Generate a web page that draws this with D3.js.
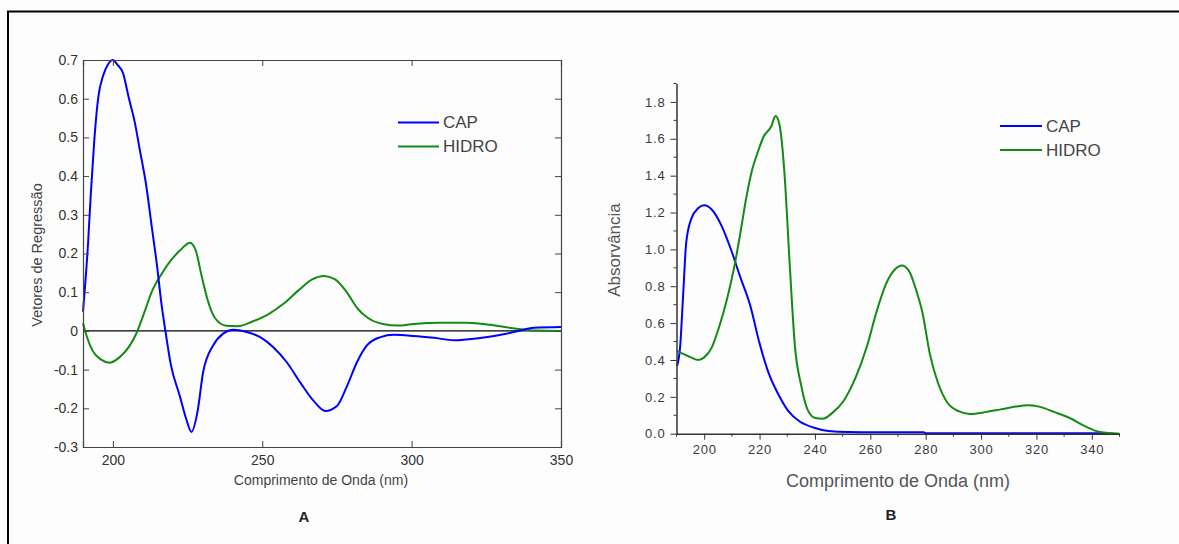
<!DOCTYPE html>
<html>
<head>
<meta charset="utf-8">
<script src="https://cdn.jsdelivr.net/npm/d3@7"></script>
<style>
body { margin: 0; background: #fdfdfd; }
text { font-family: "Liberation Sans", Arial, sans-serif; }
</style>
</head>
<body>
<div id="fig"></div>
<script>
// panel A - regression vectors
var capA_wl = [190, 191.7, 192.6, 193.8, 195.1, 196.8, 198.3, 200, 201.5, 203.4, 205.3, 207.3, 209.2, 211.1, 213, 214.7, 216.2, 217.7, 219.4, 222.4, 224.6, 226.3, 228.3, 230.2, 233.6, 236.9, 240.3, 244.8, 249.3, 253.7, 258.2, 262.7, 267.2, 271.1, 275, 278.4, 281.7, 285.1, 289.6, 294, 300.7, 307.5, 314.2, 320.9, 327.6, 334.3, 341, 350];
var capA_val = [0.05, 0.227, 0.352, 0.495, 0.603, 0.661, 0.688, 0.70, 0.688, 0.666, 0.603, 0.54, 0.46, 0.379, 0.27, 0.173, 0.074, -0.006, -0.087, -0.168, -0.229, -0.261, -0.21, -0.107, -0.037, -0.007, 0.003, -0.003, -0.016, -0.042, -0.081, -0.133, -0.181, -0.207, -0.194, -0.142, -0.081, -0.037, -0.016, -0.010, -0.013, -0.018, -0.024, -0.020, -0.013, -0.003, 0.008, 0.010];
var hidroA_wl = [190, 191.3, 193.2, 195.8, 199, 202.1, 205.3, 207.9, 210.5, 213, 216.2, 219.4, 222.6, 225.8, 227.7, 229.6, 231.6, 234.1, 238, 241.8, 246.9, 252, 257.1, 262.3, 266.7, 270.6, 274.4, 278.2, 282.1, 285.3, 290.4, 295.5, 300.6, 309.6, 318.5, 326.2, 333.9, 341.5, 350];
var hidroA_val = [0.02, -0.015, -0.051, -0.073, -0.082, -0.069, -0.042, -0.006, 0.047, 0.101, 0.146, 0.182, 0.209, 0.228, 0.209, 0.146, 0.083, 0.034, 0.013, 0.012, 0.025, 0.043, 0.07, 0.106, 0.133, 0.142, 0.133, 0.101, 0.056, 0.034, 0.018, 0.014, 0.018, 0.021, 0.021, 0.016, 0.007, 0.001, 0.0];
var xTicksA = [200, 250, 300, 350];
var yTicksA = [-0.3, -0.2, -0.1, 0, 0.1, 0.2, 0.3, 0.4, 0.5, 0.6, 0.7];

// panel B - absorbance spectra
var capB_wl = [190.2, 191.3, 192.4, 193.5, 195.4, 197.9, 200, 202.8, 206.2, 209.7, 213.1, 216.6, 220, 223.5, 227, 230.4, 234.5, 239.4, 244.9, 251.8, 265.6, 279.2, 280, 347];
var capB_val = [0.367, 0.47, 0.753, 1.036, 1.168, 1.224, 1.239, 1.215, 1.13, 0.998, 0.847, 0.697, 0.49, 0.32, 0.207, 0.122, 0.066, 0.034, 0.015, 0.009, 0.008, 0.008, 0.003, 0.003];
var hidroB_wl = [190.3, 192.4, 195.2, 197.9, 200, 202.8, 205.5, 208.3, 211.1, 213.1, 215.2, 217.3, 219.3, 221.4, 224.2, 225.8, 227.2, 229, 230.8, 232.8, 235, 237.3, 240.1, 242.8, 246.3, 250.4, 254.6, 258.7, 262.2, 265.6, 269.1, 271.4, 273.9, 276.7, 278.8, 281.5, 284.3, 287.8, 291.9, 296, 301.6, 307.1, 312.6, 316.8, 320.9, 326.5, 332, 337.5, 343, 350];
var hidroB_val = [0.448, 0.433, 0.414, 0.40, 0.414, 0.47, 0.584, 0.734, 0.923, 1.092, 1.28, 1.431, 1.525, 1.61, 1.667, 1.723, 1.676, 1.412, 0.942, 0.47, 0.264, 0.132, 0.085, 0.081, 0.113, 0.179, 0.301, 0.47, 0.659, 0.81, 0.895, 0.913, 0.885, 0.772, 0.659, 0.433, 0.282, 0.169, 0.122, 0.107, 0.117, 0.132, 0.147, 0.154, 0.147, 0.117, 0.085, 0.041, 0.009, 0.0];
var xTicksB = [200, 220, 240, 260, 280, 300, 320, 340];
var yTicksB = [0, 0.2, 0.4, 0.6, 0.8, 1.0, 1.2, 1.4, 1.6, 1.8];

var series = ["CAP", "HIDRO"];
var blue = "#0000ff";
var green = "#138a13";

var svg = d3.select("#fig").append("svg")
    .attr("width", 1179)
    .attr("height", 544);

// outer frame (top and left only visible)
svg.append("line").attr("x1", 7).attr("x2", 1179).attr("y1", 11.5).attr("y2", 11.5)
    .attr("stroke", "#000").attr("stroke-width", 2);
svg.append("line").attr("x1", 8).attr("x2", 8).attr("y1", 11).attr("y2", 544)
    .attr("stroke", "#000").attr("stroke-width", 2);

function zip(xs, ys) {
    return xs.map(function(d, i) { return [d, ys[i]]; });
}

// ---------- panel A ----------
var xA = d3.scaleLinear().domain([190, 350]).range([83, 561]);
var yA = d3.scaleLinear().domain([-0.3, 0.7]).range([447, 60]);

var gA = svg.append("g");

gA.append("line")
    .attr("x1", xA(190)).attr("x2", xA(350))
    .attr("y1", yA(0)).attr("y2", yA(0))
    .attr("stroke", "#000").attr("stroke-width", 1.2);

var lineA = d3.line()
    .x(function(d) { return xA(d[0]); })
    .y(function(d) { return yA(d[1]); })
    .curve(d3.curveMonotoneX);

gA.append("path").datum(zip(hidroA_wl, hidroA_val))
    .attr("d", lineA).attr("fill", "none").attr("stroke", green).attr("stroke-width", 2);
gA.append("path").datum(zip(capA_wl, capA_val))
    .attr("d", lineA).attr("fill", "none").attr("stroke", blue).attr("stroke-width", 2);

// matlab style labels: plain hyphen, bare 0
var fmtA = function(d) { return Math.abs(d) < 1e-9 ? "0" : d.toFixed(1); };

gA.append("g").attr("transform", "translate(" + xA(190) + ",0)")
    .call(d3.axisLeft(yA).tickValues(yTicksA).tickSize(-6).tickPadding(5).tickFormat(fmtA));
gA.append("g").attr("transform", "translate(" + xA(350) + ",0)")
    .call(d3.axisRight(yA).tickValues(yTicksA).tickSize(-6).tickFormat(""));
gA.append("g").attr("transform", "translate(0," + yA(-0.3) + ")")
    .call(d3.axisBottom(xA).tickValues(xTicksA).tickSize(-6).tickPadding(8));
gA.append("g").attr("transform", "translate(0," + yA(0.7) + ")")
    .call(d3.axisTop(xA).tickValues(xTicksA).tickSize(-6).tickFormat(""));

gA.selectAll(".domain").attr("stroke", "#444").attr("stroke-width", 1.2);
gA.selectAll(".tick line").attr("stroke", "#444");
gA.selectAll(".tick text").attr("fill", "#333").style("font-size", "14px");

gA.append("text")
    .attr("transform", "translate(37,255) rotate(-90)")
    .attr("text-anchor", "middle").attr("dominant-baseline", "central")
    .attr("fill", "#444").style("font-size", "14.5px")
    .text("Vetores de Regressão");
gA.append("text")
    .attr("x", 321).attr("y", 480)
    .attr("text-anchor", "middle").attr("dominant-baseline", "central")
    .attr("fill", "#444").style("font-size", "14px")
    .text("Comprimento de Onda (nm)");
gA.append("text")
    .attr("x", 304).attr("y", 516)
    .attr("text-anchor", "middle").attr("dominant-baseline", "central")
    .attr("fill", "#222").style("font-size", "15px").style("font-weight", "bold")
    .text("A");

var legA = gA.selectAll("g.legA").data(series).enter().append("g").attr("class", "legA")
    .attr("transform", function(d, i) { return "translate(398," + (122.5 + i * 24) + ")"; });
legA.append("line").attr("x1", 0).attr("x2", 41)
    .attr("stroke", function(d, i) { return i == 0 ? blue : green; }).attr("stroke-width", 2);
legA.append("text").attr("x", 45).attr("dominant-baseline", "central")
    .attr("fill", "#444").style("font-size", "17px")
    .text(function(d) { return d; });

// ---------- panel B ----------
var xB = d3.scaleLinear().domain([190, 350]).range([676.5, 1119.5]);
var yB = d3.scaleLinear().domain([0, 1.9]).range([433.7, 83.5]);

var gB = svg.append("g");

var lineB = d3.line()
    .x(function(d) { return xB(d[0]); })
    .y(function(d) { return yB(d[1]); })
    .curve(d3.curveMonotoneX);

gB.append("path").datum(zip(capB_wl, capB_val))
    .attr("d", lineB).attr("fill", "none").attr("stroke", blue).attr("stroke-width", 2);
gB.append("path").datum(zip(hidroB_wl, hidroB_val))
    .attr("d", lineB).attr("fill", "none").attr("stroke", green).attr("stroke-width", 2);

// minor ticks
var minorY = d3.range(0.1, 1.95, 0.2);
var minorX = d3.range(190, 351, 20);
gB.selectAll("line.minY").data(minorY).enter().append("line")
    .attr("x1", xB(190) - 3).attr("x2", xB(190))
    .attr("y1", function(d) { return yB(d); }).attr("y2", function(d) { return yB(d); })
    .attr("stroke", "#333");
gB.selectAll("line.minX").data(minorX).enter().append("line")
    .attr("y1", yB(0)).attr("y2", yB(0) + 3)
    .attr("x1", function(d) { return xB(d); }).attr("x2", function(d) { return xB(d); })
    .attr("stroke", "#333");

gB.append("g").attr("transform", "translate(" + xB(190) + ",0)")
    .call(d3.axisLeft(yB).tickValues(yTicksB).tickSizeInner(6).tickSizeOuter(0).tickPadding(5).tickFormat(d3.format(".1f")));
gB.append("g").attr("transform", "translate(0," + yB(0) + ")")
    .call(d3.axisBottom(xB).tickValues(xTicksB).tickSizeInner(6).tickSizeOuter(0).tickPadding(5));

gB.selectAll(".domain").attr("stroke", "#333").attr("stroke-width", 1.5);
gB.selectAll(".tick line").attr("stroke", "#333");
gB.selectAll(".tick text").attr("fill", "#3a3a3a").style("font-size", "13px").style("letter-spacing", "0.8px");

gB.append("text")
    .attr("transform", "translate(614,250) rotate(-90)")
    .attr("text-anchor", "middle").attr("dominant-baseline", "central")
    .attr("fill", "#555").style("font-size", "17px")
    .text("Absorvância");
gB.append("text")
    .attr("x", 898).attr("y", 481)
    .attr("text-anchor", "middle").attr("dominant-baseline", "central")
    .attr("fill", "#555").style("font-size", "18px")
    .text("Comprimento de Onda (nm)");
gB.append("text")
    .attr("x", 891).attr("y", 514)
    .attr("text-anchor", "middle").attr("dominant-baseline", "central")
    .attr("fill", "#222").style("font-size", "15px").style("font-weight", "bold")
    .text("B");

var legB = gB.selectAll("g.legB").data(series).enter().append("g").attr("class", "legB")
    .attr("transform", function(d, i) { return "translate(1000," + (126 + i * 24) + ")"; });
legB.append("line").attr("x1", 0).attr("x2", 42)
    .attr("stroke", function(d, i) { return i == 0 ? blue : green; }).attr("stroke-width", 2);
legB.append("text").attr("x", 46).attr("dominant-baseline", "central")
    .attr("fill", "#444").style("font-size", "17px")
    .text(function(d) { return d; });
</script>
</body>
</html>
